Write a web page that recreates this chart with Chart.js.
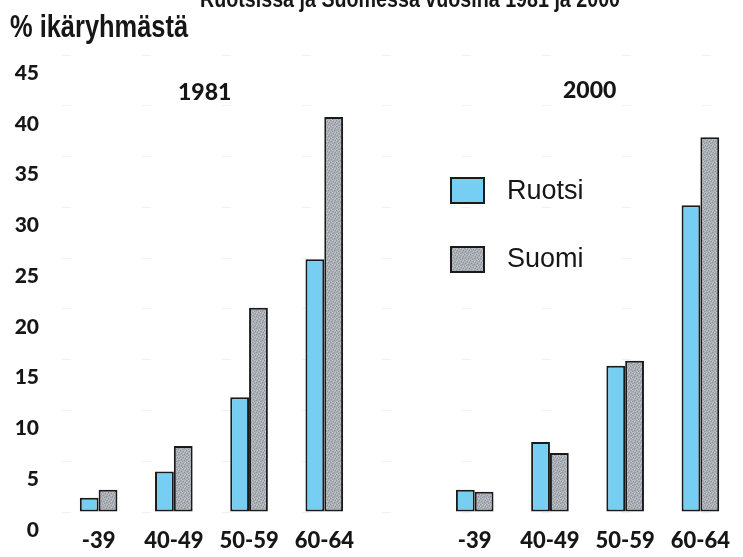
<!DOCTYPE html>
<html>
<head>
<meta charset="utf-8">
<script src="https://cdn.jsdelivr.net/npm/chart.js@4.4.0/dist/chart.umd.min.js"></script>
<style>
  html, body { margin: 0; padding: 0; background: #fff; overflow: hidden; }
  #wrap { position: relative; width: 743px; height: 557px; }
  .txt { position: absolute; white-space: nowrap; color: #161616; }
  .narrow { font-family: "Liberation Sans", Arial, sans-serif; font-weight: bold; transform-origin: 0 0; transform: scaleX(0.82); }
  .year { font-family: Lato, "Open Sans", sans-serif; font-weight: 900; font-size: 23px; }
  .lg { position: absolute; width: 31px; height: 23px; border: 2px solid #1a1a1a; }
  .lgtxt { font-family: "Liberation Sans", Arial, sans-serif; font-size: 27px; line-height: 30px; }
</style>
</head>
<body>
<div id="wrap">
  <canvas id="chart"></canvas>
  <div class="txt narrow" style="left:200px; top:-15px; font-size:24px;">Ruotsissa ja Suomessa vuosina 1981 ja 2000</div>
  <div class="txt narrow" style="left:10px; top:9px; font-size:31px;">% ikäryhmästä</div>
  <div class="txt year" id="y1" style="left:178px; top:77px;"></div>
  <div class="txt year" id="y2" style="left:563px; top:75px;"></div>
  <div class="lg" id="lg0" style="left:450px; top:177px;"></div>
  <div class="txt lgtxt" id="lt0" style="left:507px; top:175px;"></div>
  <div class="lg" id="lg1" style="left:450px; top:246px;"></div>
  <div class="txt lgtxt" id="lt1" style="left:507px; top:243px;"></div>
</div>
<script>
// Ikäryhmät ja vuodet
const ageGroups = ['-39', '40-49', '50-59', '60-64'];
const years = ['1981', '2000'];
const seriesNames = ['Ruotsi', 'Suomi'];

// Osuus ikäryhmästä (%)
const ruotsi1981 = [1.4, 4.0, 11.3, 24.9];
const suomi1981 = [2.2, 6.5, 20.1, 38.9];
const ruotsi2000 = [2.2, 6.9, 14.4, 30.2];
const suomi2000 = [2.0, 5.8, 14.9, 36.9];

const yTicks = [0, 5, 10, 15, 20, 25, 30, 35, 40, 45];

// Harmaa pisteytetty kuvio Suomen pylväille
function makePattern() {
  const c = document.createElement('canvas');
  c.width = 6; c.height = 6;
  const ctx = c.getContext('2d');
  ctx.fillStyle = '#a9aeb4';
  ctx.fillRect(0, 0, 6, 6);
  ctx.fillStyle = '#8d9299';
  [[0, 0], [3, 1], [1, 3], [4, 4], [2, 5], [5, 2]].forEach(p => ctx.fillRect(p[0], p[1], 1, 1));
  ctx.fillStyle = '#c4c8cd';
  [[2, 0], [5, 0], [0, 2], [3, 3], [1, 5], [4, 1]].forEach(p => ctx.fillRect(p[0], p[1], 1, 1));
  return c;
}

const patCanvas = makePattern();
const suomiFill = patCanvas.getContext('2d').createPattern(patCanvas, 'repeat');
const ruotsiFill = '#76cff3';

const labels = [...ageGroups, '', ...ageGroups];

const chart = new Chart(document.getElementById('chart'), {
  type: 'bar',
  data: {
    labels: labels,
    datasets: [
      {
        label: seriesNames[0],
        data: [...ruotsi1981, null, ...ruotsi2000],
        backgroundColor: ruotsiFill,
        borderColor: '#1a1a1a',
        borderWidth: 2,
        borderSkipped: false,
        categoryPercentage: 0.5,
        barPercentage: 1.0
      },
      {
        label: seriesNames[1],
        data: [...suomi1981, null, ...suomi2000],
        backgroundColor: suomiFill,
        borderColor: '#1a1a1a',
        borderWidth: 2,
        borderSkipped: false,
        categoryPercentage: 0.5,
        barPercentage: 1.0
      }
    ]
  },
  options: {
    responsive: true,
    maintainAspectRatio: false,
    animation: false,
    layout: { padding: { top: 55, right: 5, left: 0, bottom: 0 } },
    plugins: {
      legend: { display: false },
      tooltip: { enabled: false },
      title: { display: false }
    },
    scales: {
      x: {
        grid: { display: false },
        border: { display: false },
        ticks: {
          color: '#161616',
          padding: 8,
          maxRotation: 0,
          autoSkip: false,
          font: { family: 'Lato, "Open Sans", sans-serif', size: 22, weight: '900' }
        },
        afterFit: s => { s.height = 45; }
      },
      y: {
        min: 0,
        max: 45,
        afterBuildTicks: s => { s.ticks = yTicks.map(v => ({ value: v })); },
        grid: { color: 'rgba(0,0,0,0.05)', drawTicks: false, lineWidth: 1 },
        border: { display: false, dash: [10, 70] },
        ticks: {
          color: '#161616',
          padding: 22,
          labelOffset: 18,
          font: { family: 'Lato, "Open Sans", sans-serif', size: 21, weight: '900' }
        },
        afterFit: s => { s.width = 61; }
      }
    }
  }
});

// Vuosiotsikot ja selite
document.getElementById('y1').textContent = years[0];
document.getElementById('y2').textContent = years[1];
document.getElementById('lt0').textContent = seriesNames[0];
document.getElementById('lt1').textContent = seriesNames[1];
document.getElementById('lg0').style.background = ruotsiFill;
document.getElementById('lg1').style.background = 'url(' + patCanvas.toDataURL() + ')';
</script>
</body>
</html>
